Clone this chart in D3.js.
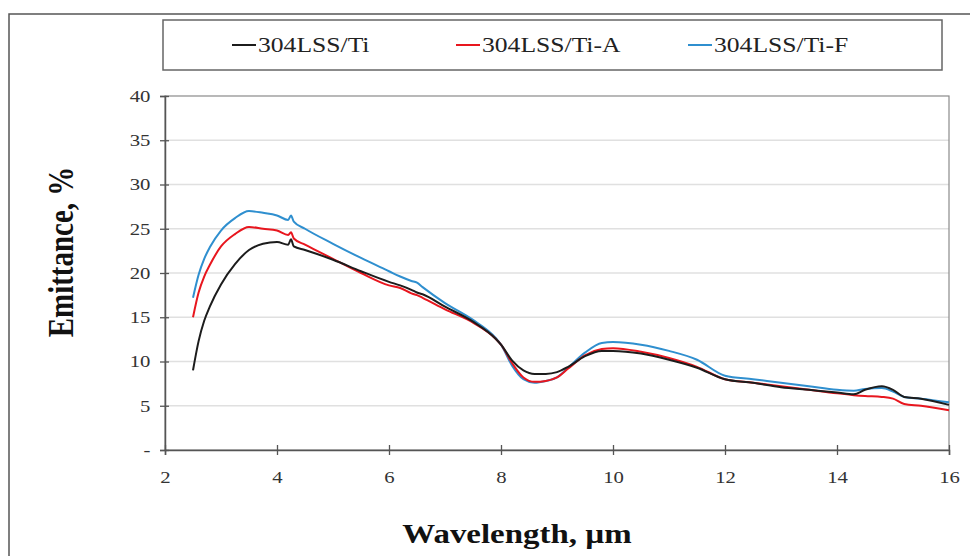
<!DOCTYPE html>
<html>
<head>
<meta charset="utf-8">
<script src="https://cdn.jsdelivr.net/npm/d3@7"></script>
<style>
  body { margin: 0; background: #fff; }
  svg { display: block; }
</style>
</head>
<body>
<div id="chart"></div>
<script>
// valores
const wavelength = [2.5, 2.6, 2.7, 2.8, 3.0, 3.25, 3.5, 3.75, 4.0, 4.2, 4.25, 4.3, 4.5, 5.0, 5.5, 6.0, 6.2, 6.4, 6.5, 6.6,
    7.0, 7.5, 7.9, 8.0, 8.2, 8.4, 8.6, 8.8, 9.0, 9.2, 9.5, 9.8, 10.0, 10.5, 11.0, 11.5, 12.0, 12.5, 13.0, 13.5,
    14.0, 14.3, 14.5, 14.8, 15.0, 15.2, 15.5, 16.0];
const tiValues = [9.0, 12.3, 14.6, 16.2, 18.7, 21.0, 22.6, 23.3, 23.5, 23.2, 23.8, 23.0, 22.6, 21.5, 20.2, 19.0, 18.6, 18.1, 17.8, 17.6,
    16.2, 14.5, 12.6, 11.9, 10.1, 9.0, 8.6, 8.6, 8.8, 9.4, 10.6, 11.2, 11.2, 10.9, 10.2, 9.3, 8.0, 7.6, 7.1, 6.8,
    6.5, 6.3, 6.8, 7.2, 6.8, 6.0, 5.8, 5.1];
const tiAValues = [15.0, 17.8, 19.6, 20.9, 23.0, 24.4, 25.2, 25.0, 24.8, 24.3, 24.6, 23.9, 23.2, 21.6, 20.0, 18.6, 18.3, 17.7, 17.5, 17.2,
    15.9, 14.4, 12.6, 11.9, 9.8, 8.2, 7.7, 7.8, 8.2, 9.2, 10.7, 11.4, 11.5, 11.1, 10.4, 9.4, 8.0, 7.6, 7.2, 6.8,
    6.4, 6.2, 6.1, 6.0, 5.8, 5.2, 5.0, 4.5];
const tiFValues = [17.2, 19.8, 21.6, 22.9, 24.8, 26.2, 27.0, 26.8, 26.5, 26.0, 26.5, 25.8, 25.0, 23.3, 21.7, 20.2, 19.6, 19.1, 18.9, 18.4,
    16.6, 14.7, 12.7, 11.9, 9.5, 8.0, 7.6, 7.8, 8.2, 9.3, 11.0, 12.1, 12.2, 11.9, 11.2, 10.2, 8.4, 8.0, 7.6, 7.2,
    6.8, 6.7, 6.9, 7.0, 6.6, 6.0, 5.8, 5.4];
const seriesNames = ["304LSS/Ti", "304LSS/Ti-A", "304LSS/Ti-F"];
const xTicks = [2, 4, 6, 8, 10, 12, 14, 16];
const yTicks = [0, 5, 10, 15, 20, 25, 30, 35, 40];

const colors = ["#1c1c1c", "#e8161e", "#2f8fcf"];
const allValues = [tiValues, tiAValues, tiFValues];
const series = seriesNames.map((name, i) => ({
    name: name,
    color: colors[i],
    points: wavelength.map((w, j) => ({ x: w, y: allValues[i][j] }))
}));

const W = 970, H = 556;
const stretch = 1.22; // a imagem original está esticada na horizontal
const serif = "'Liberation Serif', 'Times New Roman', serif";

const svg = d3.select("#chart").append("svg")
    .attr("width", W)
    .attr("height", H);

// moldura exterior
svg.append("rect")
    .attr("x", 9).attr("y", 14)
    .attr("width", W + 10).attr("height", H + 10)
    .attr("fill", "none")
    .attr("stroke", "#555")
    .attr("stroke-width", 1.5);

const plot = { left: 165, right: 949, top: 96, bottom: 450 };

const x = d3.scaleLinear().domain([2, 16]).range([plot.left, plot.right]);
const y = d3.scaleLinear().domain([0, 40]).range([plot.bottom, plot.top]);

// grelha
svg.append("g")
    .selectAll("line")
    .data(yTicks.filter(d => d > 0 && d < 40))
    .enter()
    .append("line")
    .attr("x1", plot.left).attr("x2", plot.right)
    .attr("y1", d => y(d)).attr("y2", d => y(d))
    .attr("stroke", "#e0e0e0")
    .attr("stroke-width", 1.5);

// caixa da área do gráfico
svg.append("rect")
    .attr("x", plot.left).attr("y", plot.top)
    .attr("width", plot.right - plot.left).attr("height", plot.bottom - plot.top)
    .attr("fill", "none")
    .attr("stroke", "#8a8a8a")
    .attr("stroke-width", 1.2);

// eixo Y
const yAxis = svg.append("g")
    .attr("transform", `translate(${plot.left},0)`)
    .call(d3.axisLeft(y).tickValues(yTicks).tickSize(5).tickPadding(7)
        .tickFormat(d => d === 0 ? "-" : d));
yAxis.select(".domain").attr("stroke", "#555").attr("stroke-width", 1.5);
yAxis.selectAll(".tick line").attr("x1", 4).attr("stroke", "#555").attr("stroke-width", 1.3);
yAxis.selectAll(".tick text")
    .style("font-family", serif).style("font-size", "17px").attr("fill", "#333")
    .attr("transform", `scale(${stretch},1)`);

// eixo X
const xAxis = svg.append("g")
    .attr("transform", `translate(0,${plot.bottom})`)
    .call(d3.axisBottom(x).tickValues(xTicks).tickSize(5).tickPadding(16));
xAxis.select(".domain").attr("stroke", "#555").attr("stroke-width", 1.5);
xAxis.selectAll(".tick line").attr("y1", -5).attr("stroke", "#555").attr("stroke-width", 1.3);
xAxis.selectAll(".tick text")
    .style("font-family", serif).style("font-size", "17px").attr("fill", "#333")
    .attr("transform", `scale(${stretch},1)`);

// linhas
const line = d3.line()
    .x(d => x(d.x))
    .y(d => y(d.y))
    .curve(d3.curveMonotoneX);

svg.append("g")
    .selectAll("path")
    .data(series.slice().reverse())
    .enter()
    .append("path")
    .attr("d", d => line(d.points))
    .attr("fill", "none")
    .attr("stroke", d => d.color)
    .attr("stroke-width", 2)
    .attr("stroke-linejoin", "round");

// títulos dos eixos
svg.append("text")
    .attr("transform", `translate(517,543) scale(${stretch},1)`)
    .attr("text-anchor", "middle")
    .style("font-family", serif)
    .style("font-weight", "bold")
    .style("font-size", "27px")
    .attr("fill", "#111")
    .text("Wavelength, µm");

svg.append("text")
    .attr("transform", `translate(73,252) scale(${stretch},1) rotate(-90)`)
    .attr("text-anchor", "middle")
    .style("font-family", serif)
    .style("font-weight", "bold")
    .style("font-size", "29px")
    .attr("fill", "#111")
    .text("Emittance, %");

// legenda
svg.append("rect")
    .attr("x", 163).attr("y", 20)
    .attr("width", 779).attr("height", 50)
    .attr("fill", "#fff")
    .attr("stroke", "#666")
    .attr("stroke-width", 1.5);

const legendX = [232, 456, 688];
const legend = svg.append("g")
    .selectAll("g")
    .data(series)
    .enter()
    .append("g")
    .attr("transform", (d, i) => `translate(${legendX[i]},45)`);

legend.append("line")
    .attr("x1", 0).attr("x2", 24)
    .attr("stroke", d => d.color)
    .attr("stroke-width", 2);

legend.append("text")
    .attr("transform", `translate(26,7) scale(${stretch},1)`)
    .style("font-family", serif)
    .style("font-size", "21px")
    .attr("fill", "#222")
    .text(d => d.name);
</script>
</body>
</html>
